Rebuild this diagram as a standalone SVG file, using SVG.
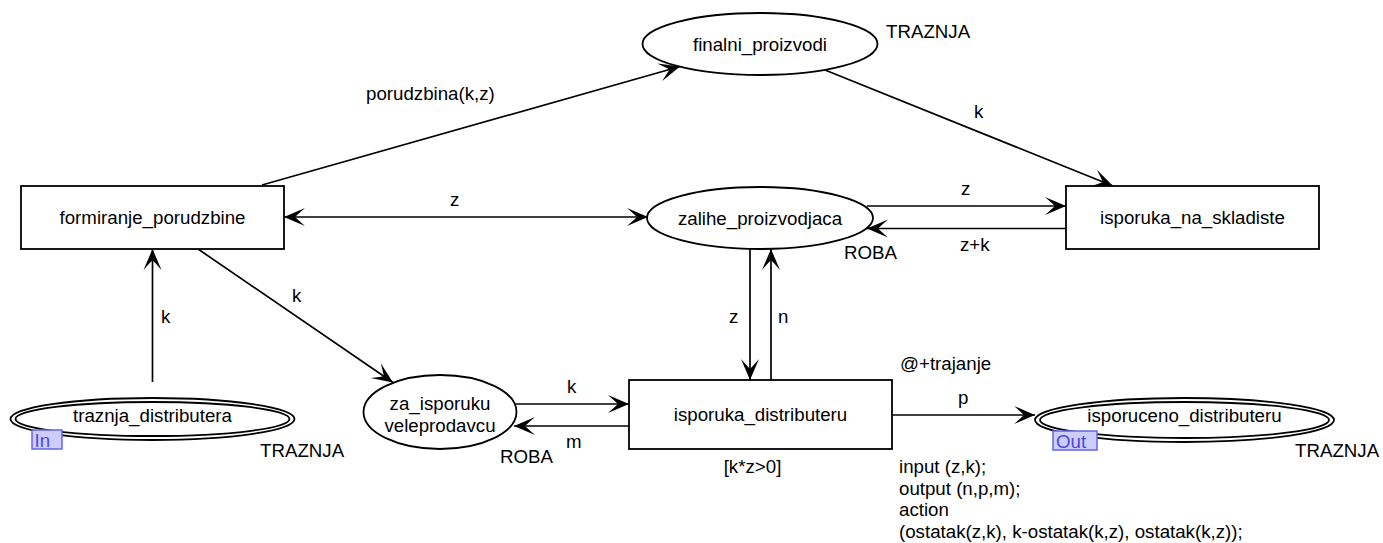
<svg xmlns="http://www.w3.org/2000/svg" width="1383" height="543" viewBox="0 0 1383 543">
<style>
text{font-family:"Liberation Sans",Arial,sans-serif;font-size:18.7px;fill:#000}
.c{text-anchor:middle}
.n{fill:#fff;stroke:#000;stroke-width:1.8}
.a{fill:none;stroke:#000;stroke-width:1.7}
.port{fill:#ccccff;stroke:#6666e6;stroke-width:1.5}
.pt{fill:#4a4ad8}
</style>
<defs>
<marker id="ah" viewBox="-23 -11 25 22" refX="0" refY="0" markerWidth="25" markerHeight="22" markerUnits="userSpaceOnUse" orient="auto-start-reverse">
<path d="M0,0 L-21,-9 Q-13,-2 -11,0 Q-13,2 -21,9 Z" fill="#000"/>
</marker>
</defs>
<g id="connectors">
<line class="a" x1="262" y1="185" x2="680" y2="66.5" marker-end="url(#ah)"/>
<text x="366" y="100">porudzbina(k,z)</text>
<line class="a" x1="825" y1="70" x2="1113" y2="186" marker-end="url(#ah)"/>
<text x="974" y="118">k</text>
<line class="a" x1="284" y1="217" x2="648" y2="217" marker-start="url(#ah)" marker-end="url(#ah)"/>
<text x="450" y="206">z</text>
<line class="a" x1="867" y1="206" x2="1066" y2="206" marker-end="url(#ah)"/>
<text x="961" y="195">z</text>
<line class="a" x1="1066" y1="228.5" x2="867" y2="228.5" marker-end="url(#ah)"/>
<text x="960" y="251">z+k</text>
<text x="844" y="259">ROBA</text>
<line class="a" x1="750" y1="249" x2="750" y2="380" marker-end="url(#ah)"/>
<text x="729" y="323">z</text>
<line class="a" x1="771" y1="380" x2="771" y2="249" marker-end="url(#ah)"/>
<text x="778" y="323">n</text>
<line class="a" x1="198" y1="249" x2="393" y2="382.5" marker-end="url(#ah)"/>
<text x="292" y="302">k</text>
<line class="a" x1="152.5" y1="382" x2="152.5" y2="249" marker-end="url(#ah)"/>
<text x="161" y="323">k</text>
<line class="a" x1="515" y1="404" x2="629" y2="404" marker-end="url(#ah)"/>
<text x="567" y="393">k</text>
<line class="a" x1="629" y1="426" x2="514" y2="426" marker-end="url(#ah)"/>
<text x="566" y="448">m</text>
<text x="500" y="463">ROBA</text>
<line class="a" x1="892" y1="415" x2="1035" y2="415" marker-end="url(#ah)"/>
<text x="958" y="404">p</text>
</g>
<g id="formiranje_porudzbine">
<rect class="n" x="21" y="186" width="263" height="63"/>
<text class="c" x="152.5" y="224">formiranje_porudzbine</text>
</g>
<g id="finalni_proizvodi">
<ellipse class="n" cx="760" cy="44" rx="117.5" ry="31"/>
<text class="c" x="760" y="50.5">finalni_proizvodi</text>
<text x="886" y="38">TRAZNJA</text>
</g>
<g id="isporuka_na_skladiste">
<rect class="n" x="1066" y="186" width="253" height="63"/>
<text class="c" x="1192.5" y="224">isporuka_na_skladiste</text>
</g>
<g id="zalihe_proizvodjaca">
<ellipse class="n" cx="760" cy="218" rx="113" ry="31"/>
<text class="c" x="760" y="224.5">zalihe_proizvodjaca</text>
</g>
<g id="traznja_distributera">
<ellipse class="n" cx="152.5" cy="419" rx="142" ry="21"/>
<ellipse class="n" cx="152.5" cy="419" rx="137" ry="17"/>
<text class="c" x="152.5" y="421.5">traznja_distributera</text>
<rect class="port" x="32" y="430" width="30" height="19"/>
<text class="pt" x="34.5" y="447">In</text>
<text x="260" y="457">TRAZNJA</text>
</g>
<g id="za_isporuku_veleprodavcu">
<ellipse class="n" cx="440" cy="412" rx="76.5" ry="37"/>
<text class="c" x="440" y="410">za_isporuku</text>
<text class="c" x="440" y="432">veleprodavcu</text>
</g>
<g id="isporuka_distributeru">
<rect class="n" x="629" y="380" width="263" height="69"/>
<text class="c" x="760.5" y="421">isporuka_distributeru</text>
<text class="c" x="752.5" y="473">[k*z&gt;0]</text>
<text x="900" y="370">@+trajanje</text>
<text x="899" y="473">input (z,k);</text>
<text x="899" y="494.5">output (n,p,m);</text>
<text x="899" y="516">action</text>
<text x="899" y="537.5">(ostatak(z,k), k-ostatak(k,z), ostatak(k,z));</text>
</g>
<g id="isporuceno_distributeru">
<ellipse class="n" cx="1184.5" cy="420" rx="149.5" ry="22"/>
<ellipse class="n" cx="1184.5" cy="420" rx="144.5" ry="18"/>
<text class="c" x="1184.5" y="421.5">isporuceno_distributeru</text>
<rect class="port" x="1053" y="431" width="44" height="19"/>
<text class="pt" x="1056" y="448">Out</text>
<text x="1295" y="457">TRAZNJA</text>
</g>
</svg>
